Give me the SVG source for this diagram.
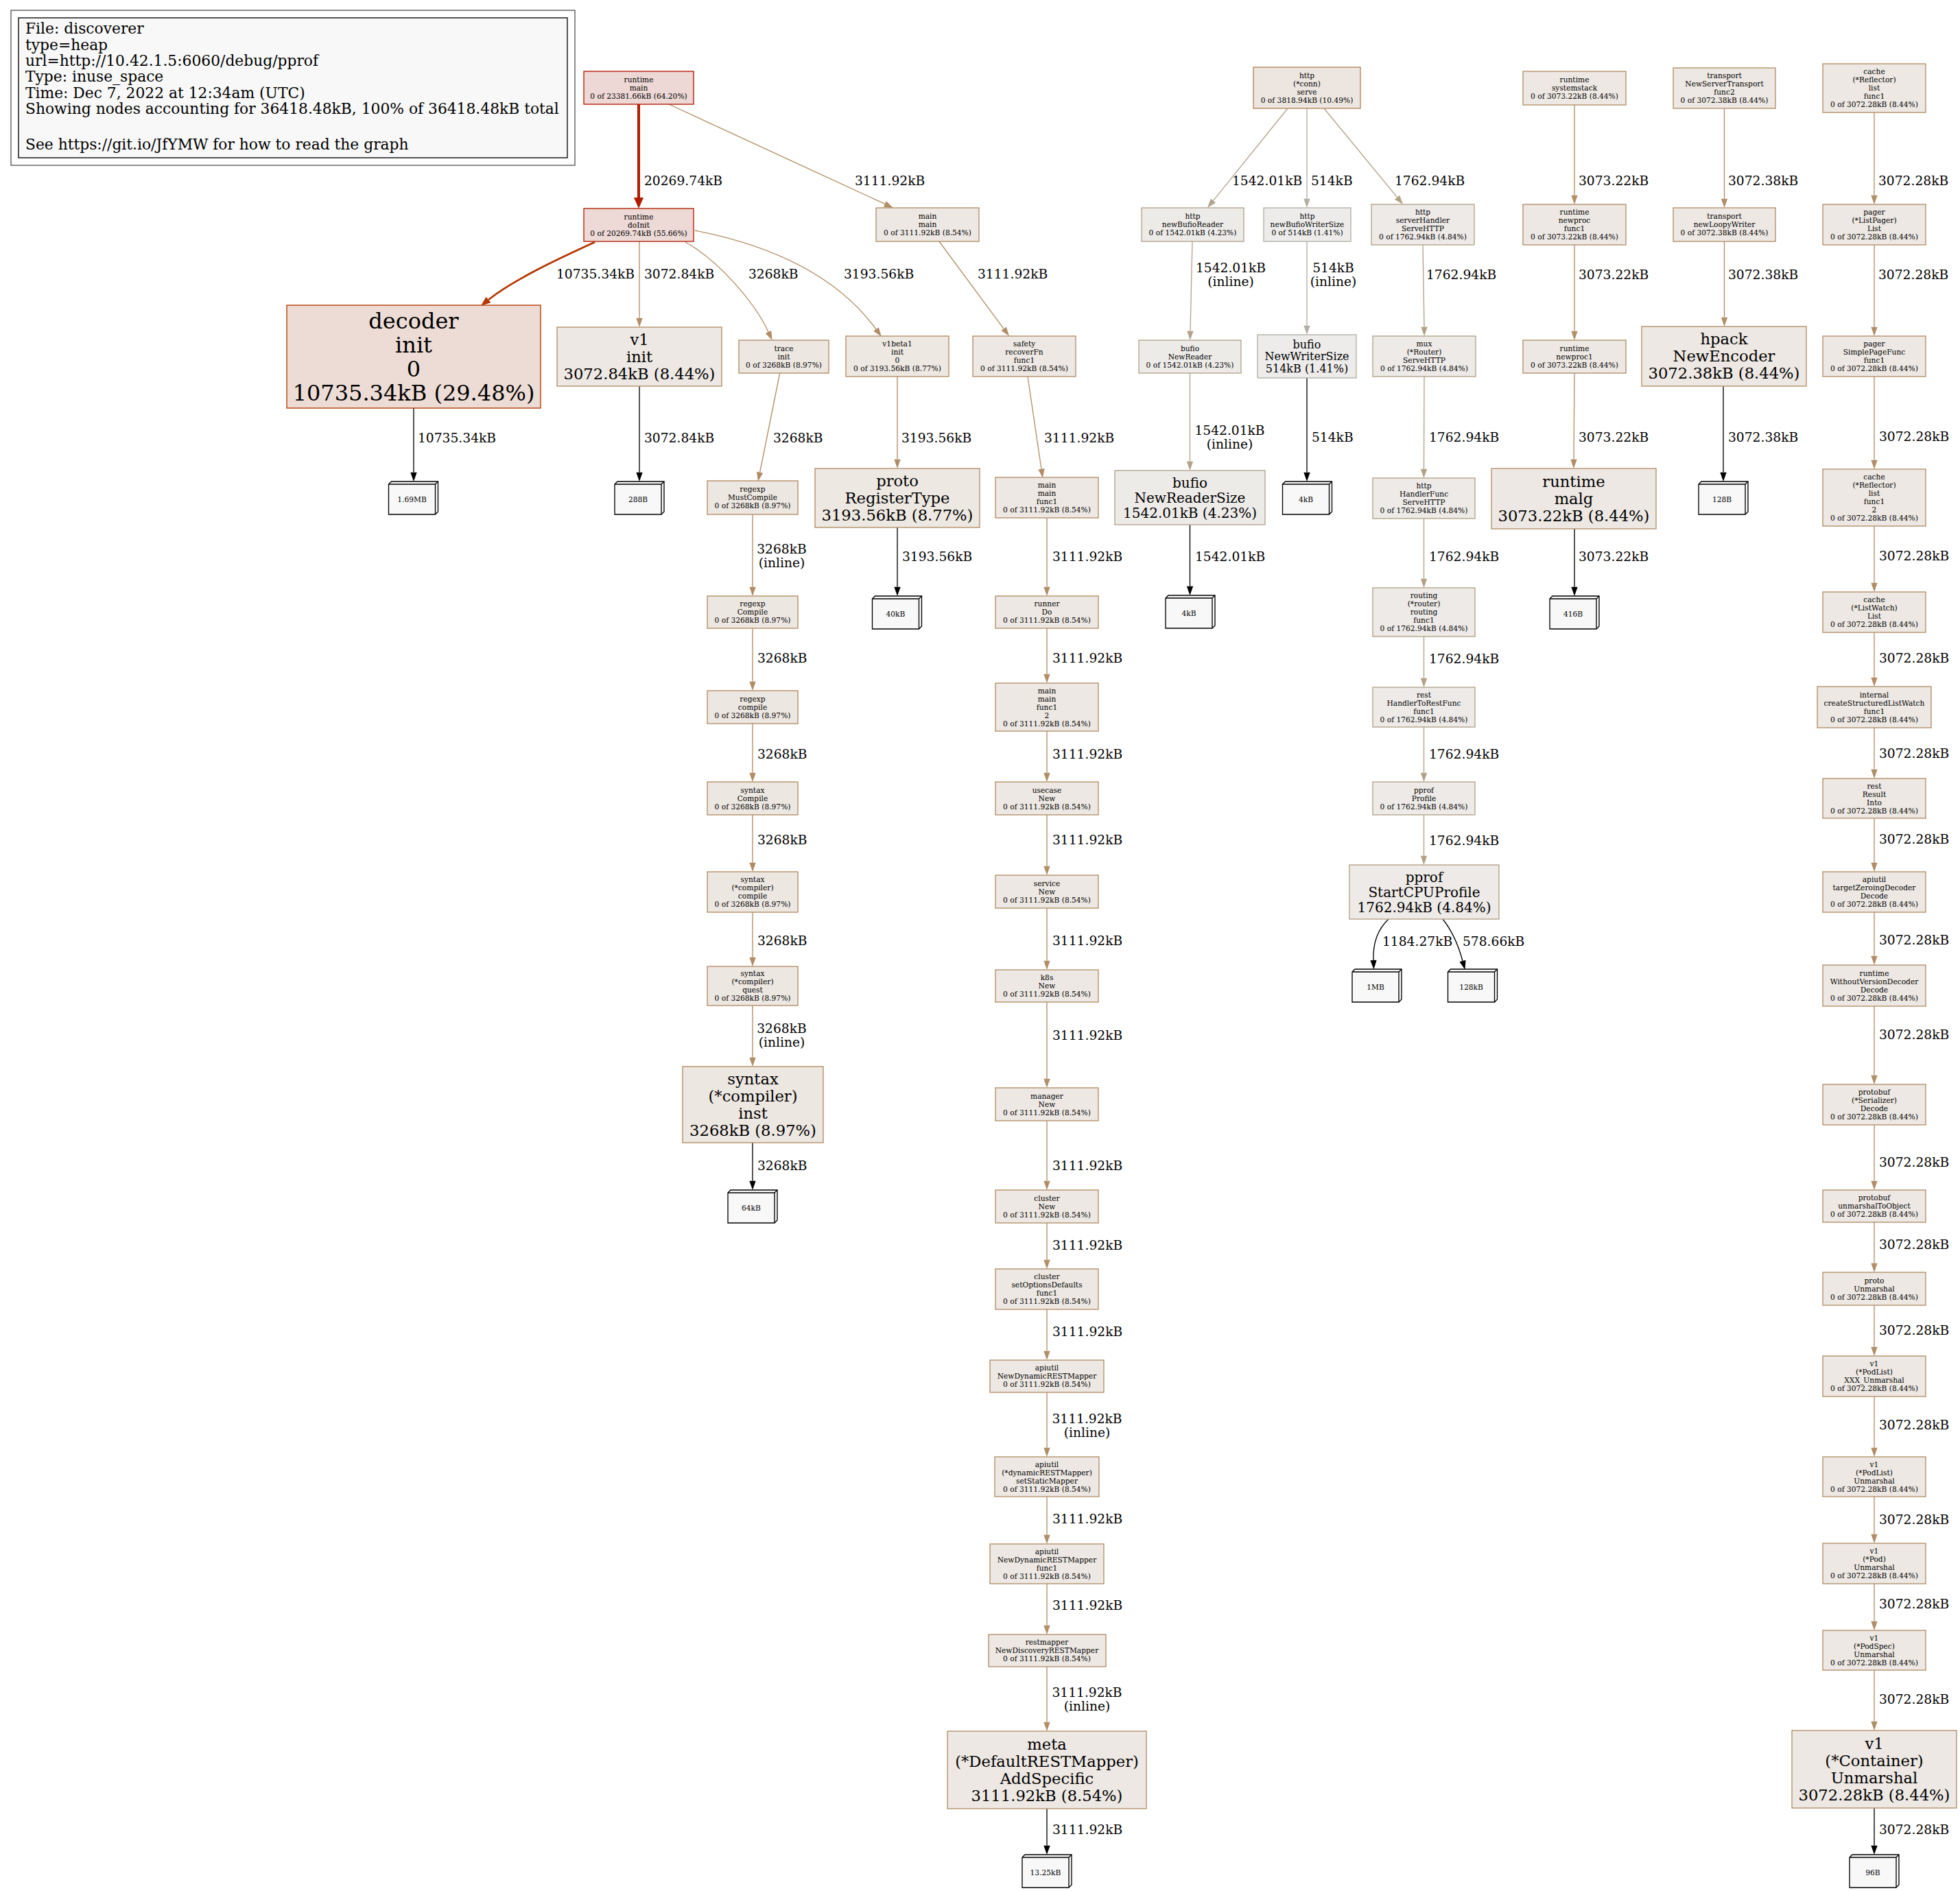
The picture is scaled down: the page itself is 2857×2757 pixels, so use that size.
<svg xmlns="http://www.w3.org/2000/svg" xmlns:xlink="http://www.w3.org/1999/xlink" width="2857" height="2757" viewBox="0 0 2857 2757">
<style>
text{font-family:"DejaVu Serif","Liberation Serif",serif;fill:#000}
.nt{text-anchor:middle}
.f8{font-size:10.67px}.f12{font-size:16px}.f15{font-size:20px}.f17{font-size:22.67px}.f24{font-size:32px}
.el{font-size:18.67px}.lg{font-size:21.8px}
.mid{text-anchor:middle}
rect.n{stroke-width:1.33}
.e{fill:none;stroke-width:1.33}
.red{stroke:#b21c00;stroke-width:4;marker-end:url(#a-red)}
.org{stroke:#b23600;stroke-width:2.67;marker-end:url(#a-org)}
.tan{stroke:#b28e66;marker-end:url(#a-tan)}
.t97{stroke:#b28b62;marker-end:url(#a-t97)}
.t77{stroke:#b28c64;marker-end:url(#a-t77)}
.t42{stroke:#b2a38c;marker-end:url(#a-t42)}
.t48{stroke:#b2a187;marker-end:url(#a-t48)}
.t14{stroke:#b2afa5;marker-end:url(#a-t14)}
.blk{stroke:#000;marker-end:url(#a-blk)}
.r64{fill:#edd8d5;stroke:#b21600}
.r55{fill:#edd9d5;stroke:#b21c00}
.r29{fill:#eddcd5;stroke:#b23600}
.c84{fill:#ede8e3;stroke:#b28e67}
.c85{fill:#ede8e3;stroke:#b28e66}
.c87{fill:#ede8e2;stroke:#b28c64}
.c89{fill:#ede7e2;stroke:#b28b62}
.c10{fill:#ede6e0;stroke:#b28254}
.c48{fill:#edeae7;stroke:#b2a187}
.c42{fill:#edebe8;stroke:#b2a38c}
.c14{fill:#edeceb;stroke:#b2afa5}
.b3{fill:#f8f8f8;stroke:#000;stroke-width:1.33}
</style>
<defs>
<marker id="a-red" markerUnits="userSpaceOnUse" markerWidth="17" markerHeight="15" refX="0" refY="7" orient="auto" overflow="visible"><path d="M0,0 L16,7 L0,14 z" fill="#b21c00"/></marker>
<marker id="a-org" markerUnits="userSpaceOnUse" markerWidth="15" markerHeight="12" refX="0" refY="5.5" orient="auto" overflow="visible"><path d="M0,0 L14,5.5 L0,11 z" fill="#b23600"/></marker>
<marker id="a-tan" markerUnits="userSpaceOnUse" markerWidth="14" markerHeight="10" refX="0" refY="4.67" orient="auto" overflow="visible"><path d="M0,0 L13.3,4.67 L0,9.33 z" fill="#b28e66"/></marker>
<marker id="a-t97" markerUnits="userSpaceOnUse" markerWidth="14" markerHeight="10" refX="0" refY="4.67" orient="auto" overflow="visible"><path d="M0,0 L13.3,4.67 L0,9.33 z" fill="#b28b62"/></marker>
<marker id="a-t77" markerUnits="userSpaceOnUse" markerWidth="14" markerHeight="10" refX="0" refY="4.67" orient="auto" overflow="visible"><path d="M0,0 L13.3,4.67 L0,9.33 z" fill="#b28c64"/></marker>
<marker id="a-t42" markerUnits="userSpaceOnUse" markerWidth="14" markerHeight="10" refX="0" refY="4.67" orient="auto" overflow="visible"><path d="M0,0 L13.3,4.67 L0,9.33 z" fill="#b2a38c"/></marker>
<marker id="a-t48" markerUnits="userSpaceOnUse" markerWidth="14" markerHeight="10" refX="0" refY="4.67" orient="auto" overflow="visible"><path d="M0,0 L13.3,4.67 L0,9.33 z" fill="#b2a187"/></marker>
<marker id="a-t14" markerUnits="userSpaceOnUse" markerWidth="14" markerHeight="10" refX="0" refY="4.67" orient="auto" overflow="visible"><path d="M0,0 L13.3,4.67 L0,9.33 z" fill="#b2afa5"/></marker>
<marker id="a-blk" markerUnits="userSpaceOnUse" markerWidth="14" markerHeight="10" refX="0" refY="4.67" orient="auto" overflow="visible"><path d="M0,0 L13.3,4.67 L0,9.33 z" fill="#000"/></marker>
<g id="box3d"><path class="b3" d="M0,4 L4,0 L72,0 L72,44 L68,48 L0,48 Z"/><path fill="none" stroke="#000" stroke-width="1.33" d="M0,4 H68 V48 M68,4 L72,0"/></g>
</defs>
<rect width="2857" height="2757" fill="#fff"/>

<g id="legend">
<rect x="16" y="15" width="822" height="226" fill="#fff" stroke="#555" stroke-width="1.33"/>
<rect x="27" y="26" width="800" height="204" fill="#f8f8f8" stroke="#000" stroke-width="1.33"/>
<text class="lg" x="37" y="49.3">File: discoverer</text>
<text class="lg" x="37" y="72.7">type=heap</text>
<text class="lg" x="37" y="96">url=http://10.42.1.5:6060/debug/pprof</text>
<text class="lg" x="37" y="119.4">Type: inuse_space</text>
<text class="lg" x="37" y="142.8">Time: Dec 7, 2022 at 12:34am (UTC)</text>
<text class="lg" x="37" y="166.2">Showing nodes accounting for 36418.48kB, 100% of 36418.48kB total</text>
<text class="lg" x="37" y="217.7">See https://git.io/JfYMW for how to read the graph</text>
</g>

<g id="edges">
<g id="e1"><path class="e red" d="M931,152 V288"/><text class="el" x="939" y="269.5">20269.74kB</text></g>
<g id="e2"><path class="e tan" d="M975,152 L1289.9,297.4"/><text class="el" x="1246" y="269.5">3111.92kB</text></g>
<g id="e3"><path class="e org" d="M867,353 C821,374 751,406 712,437"/><text class="el" x="811" y="405.5">10735.34kB</text></g>
<g id="e4"><path class="e tan" d="M932,352 V463.7"/><text class="el" x="939" y="405.5">3072.84kB</text></g>
<g id="e5"><path class="e t97" d="M999,353 C1045,378 1100,440 1120,484"/><text class="el" x="1091" y="405.5">3268kB</text></g>
<g id="e6"><path class="e t77" d="M1013,336 C1110,355 1215,395 1277,480"/><text class="el" x="1230" y="405.5">3193.56kB</text></g>
<g id="e7"><path class="e tan" d="M1369,352 L1463.1,479.3"/><text class="el" x="1425" y="405.5">3111.92kB</text></g>
<g id="e8"><path class="e blk" d="M603,595 V688.7"/><text class="el" x="609" y="644.5">10735.34kB</text></g>
<g id="e9"><path class="e blk" d="M932,563 V688.7"/><text class="el" x="939" y="644.5">3072.84kB</text></g>
<g id="e10"><path class="e t97" d="M1136.7,544 L1107.6,688.7"/><text class="el" x="1127" y="644.5">3268kB</text></g>
<g id="e11"><path class="e t77" d="M1308,549 V669.7"/><text class="el" x="1314" y="644.5">3193.56kB</text></g>
<g id="e12"><path class="e tan" d="M1498,549 L1518,683.8"/><text class="el" x="1522" y="644.5">3111.92kB</text></g>
<g id="e13"><path class="e t42" d="M1877,158 L1768.4,292.6"/><text class="el" x="1796" y="269.5">1542.01kB</text></g>
<g id="e14"><path class="e t14" d="M1905,158 V289.7"/><text class="el" x="1911" y="269.5">514kB</text></g>
<g id="e15"><path class="e t48" d="M1930,158 L2036.6,287.7"/><text class="el" x="2033" y="269.5">1762.94kB</text></g>
<g id="e16"><path class="e tan" d="M2295,153 V284.7"/><text class="el" x="2301" y="269.5">3073.22kB</text></g>
<g id="e17"><path class="e tan" d="M2513.5,158 V289.7"/><text class="el" x="2519" y="269.5">3072.38kB</text></g>
<g id="e18"><path class="e tan" d="M2732,164 V284.7"/><text class="el" x="2738" y="269.5">3072.28kB</text></g>
<g id="e19"><path class="e t42" d="M1738,352 L1735,482.7"/><text class="el mid" x="1794" y="396.5">1542.01kB</text><text class="el mid" x="1794" y="417">(inline)</text></g>
<g id="e20"><path class="e t14" d="M1905,352 V474.7"/><text class="el mid" x="1943.5" y="396.5">514kB</text><text class="el mid" x="1943.5" y="417">(inline)</text></g>
<g id="e21"><path class="e t48" d="M2074,357 L2076,476.7"/><text class="el" x="2079" y="406.5">1762.94kB</text></g>
<g id="e22"><path class="e tan" d="M2295,357 V482.7"/><text class="el" x="2301" y="406.5">3073.22kB</text></g>
<g id="e23"><path class="e tan" d="M2513.5,352 V462.7"/><text class="el" x="2519" y="406.5">3072.38kB</text></g>
<g id="e24"><path class="e tan" d="M2732,357 V476.7"/><text class="el" x="2738" y="406.5">3072.28kB</text></g>
<g id="e25"><path class="e t42" d="M1734.5,544 V672.7"/><text class="el mid" x="1792.5" y="633.5">1542.01kB</text><text class="el mid" x="1792.5" y="654">(inline)</text></g>
<g id="e26"><path class="e blk" d="M1905,551 V688.7"/><text class="el" x="1912" y="643.5">514kB</text></g>
<g id="e27"><path class="e t48" d="M2076,549 L2075.5,683.7"/><text class="el" x="2083" y="643.5">1762.94kB</text></g>
<g id="e28"><path class="e tan" d="M2295,544 L2294,669.7"/><text class="el" x="2301" y="643.5">3073.22kB</text></g>
<g id="e29"><path class="e blk" d="M2512,563 V688.7"/><text class="el" x="2519" y="643.5">3072.38kB</text></g>
<g id="e30"><path class="e tan" d="M2732,549 V670.7"/><text class="el" x="2739" y="642.5">3072.28kB</text></g>
<g id="e31"><path class="e t97" d="M1097,750 V855.7"/><text class="el mid" x="1139.5" y="806.5">3268kB</text><text class="el mid" x="1139.5" y="827">(inline)</text></g>
<g id="e32"><path class="e blk" d="M1308,769 V855.7"/><text class="el" x="1315" y="817.5">3193.56kB</text></g>
<g id="e33"><path class="e tan" d="M1526,755 V855.7"/><text class="el" x="1534" y="817.5">3111.92kB</text></g>
<g id="e34"><path class="e blk" d="M1734.5,765 V854.7"/><text class="el" x="1742" y="817.5">1542.01kB</text></g>
<g id="e35"><path class="e t48" d="M2075.5,756 V843.7"/><text class="el" x="2083" y="817.5">1762.94kB</text></g>
<g id="e36"><path class="e blk" d="M2295,771 V855.7"/><text class="el" x="2301" y="817.5">3073.22kB</text></g>
<g id="e37"><path class="e tan" d="M2732,767 V849.7"/><text class="el" x="2739" y="816.5">3072.28kB</text></g>
<g id="e38"><path class="e t97" d="M1097,916 V993.7"/><text class="el" x="1104" y="965.5">3268kB</text></g>
<g id="e39"><path class="e tan" d="M1526,916 V982.7"/><text class="el" x="1534" y="965.5">3111.92kB</text></g>
<g id="e40"><path class="e t48" d="M2075.5,928 V988.7"/><text class="el" x="2083" y="966.5">1762.94kB</text></g>
<g id="e41"><path class="e tan" d="M2732,922 V987.7"/><text class="el" x="2739" y="965.5">3072.28kB</text></g>
<g id="e42"><path class="e t97" d="M1097,1055 V1126.7"/><text class="el" x="1104" y="1105.5">3268kB</text></g>
<g id="e43"><path class="e tan" d="M1526,1066 V1126.7"/><text class="el" x="1534" y="1105.5">3111.92kB</text></g>
<g id="e44"><path class="e t48" d="M2075.5,1060 V1126.7"/><text class="el" x="2083" y="1105.5">1762.94kB</text></g>
<g id="e45"><path class="e tan" d="M2732,1061 V1121.7"/><text class="el" x="2739" y="1104.5">3072.28kB</text></g>
<g id="e46"><path class="e t97" d="M1097,1188 V1257.7"/><text class="el" x="1104" y="1230.5">3268kB</text></g>
<g id="e47"><path class="e tan" d="M1526,1188 V1262.7"/><text class="el" x="1534" y="1230.5">3111.92kB</text></g>
<g id="e48"><path class="e t48" d="M2075.5,1188 V1247.7"/><text class="el" x="2083" y="1231.5">1762.94kB</text></g>
<g id="e49"><path class="e tan" d="M2732,1193 V1257.7"/><text class="el" x="2739" y="1229.5">3072.28kB</text></g>
<g id="e50"><path class="e t97" d="M1097,1330 V1395.7"/><text class="el" x="1104" y="1377.5">3268kB</text></g>
<g id="e51"><path class="e tan" d="M1526,1324 V1400.7"/><text class="el" x="1534" y="1377.5">3111.92kB</text></g>
<g id="e52"><path class="e blk" d="M2024,1340 C2008,1355 2001,1375 2002,1400"/><text class="el" x="2015" y="1378.5">1184.27kB</text></g>
<g id="e53"><path class="e blk" d="M2103,1340 C2115,1355 2125,1375 2132,1401"/><text class="el" x="2132" y="1378.5">578.66kB</text></g>
<g id="e54"><path class="e tan" d="M2732,1330 V1393.7"/><text class="el" x="2739" y="1376.5">3072.28kB</text></g>
<g id="e55"><path class="e t97" d="M1097,1466 V1541.7"/><text class="el mid" x="1139.5" y="1505.5">3268kB</text><text class="el mid" x="1139.5" y="1526">(inline)</text></g>
<g id="e56"><path class="e tan" d="M1526,1461 V1572.7"/><text class="el" x="1534" y="1515.5">3111.92kB</text></g>
<g id="e57"><path class="e tan" d="M2732,1467 V1567.7"/><text class="el" x="2739" y="1514.5">3072.28kB</text></g>
<g id="e58"><path class="e blk" d="M1097,1666 V1721.7"/><text class="el" x="1104" y="1705.5">3268kB</text></g>
<g id="e59"><path class="e tan" d="M1526,1634 V1721.7"/><text class="el" x="1534" y="1705.5">3111.92kB</text></g>
<g id="e60"><path class="e tan" d="M2732,1640 V1721.7"/><text class="el" x="2739" y="1700.5">3072.28kB</text></g>
<g id="e61"><path class="e tan" d="M1526,1783 V1836.7"/><text class="el" x="1534" y="1821.5">3111.92kB</text></g>
<g id="e62"><path class="e tan" d="M2732,1782 V1841.7"/><text class="el" x="2739" y="1820.5">3072.28kB</text></g>
<g id="e63"><path class="e tan" d="M1526,1909 V1969.7"/><text class="el" x="1534" y="1947.5">3111.92kB</text></g>
<g id="e64"><path class="e tan" d="M2732,1903 V1963.7"/><text class="el" x="2739" y="1945.5">3072.28kB</text></g>
<g id="e65"><path class="e tan" d="M1526,2030 V2110.7"/><text class="el mid" x="1584.5" y="2074.5">3111.92kB</text><text class="el mid" x="1584.5" y="2095">(inline)</text></g>
<g id="e66"><path class="e tan" d="M2732,2036 V2110.7"/><text class="el" x="2739" y="2083.5">3072.28kB</text></g>
<g id="e67"><path class="e tan" d="M1526,2182 V2237.7"/><text class="el" x="1534" y="2220.5">3111.92kB</text></g>
<g id="e68"><path class="e tan" d="M2732,2182 V2236.7"/><text class="el" x="2739" y="2221.5">3072.28kB</text></g>
<g id="e69"><path class="e tan" d="M1526,2309 V2369.7"/><text class="el" x="1534" y="2346.5">3111.92kB</text></g>
<g id="e70"><path class="e tan" d="M2732,2309 V2363.7"/><text class="el" x="2739" y="2344.5">3072.28kB</text></g>
<g id="e71"><path class="e tan" d="M1526,2430 V2510.7"/><text class="el mid" x="1584.5" y="2473.5">3111.92kB</text><text class="el mid" x="1584.5" y="2494">(inline)</text></g>
<g id="e72"><path class="e tan" d="M2732,2435 V2509.7"/><text class="el" x="2739" y="2483.5">3072.28kB</text></g>
<g id="e73"><path class="e blk" d="M1526,2637 V2690.7"/><text class="el" x="1534" y="2673.5">3111.92kB</text></g>
<g id="e74"><path class="e blk" d="M2732,2636 V2690.7"/><text class="el" x="2739" y="2673.5">3072.28kB</text></g>
</g>

<g id="n-runtime-main"><rect class="n r64" x="851" y="104" width="160" height="48"/><text class="nt f8" x="931" y="119.8"><tspan x="931">runtime</tspan><tspan x="931" dy="11.9">main</tspan><tspan x="931" dy="11.9">0 of 23381.66kB (64.20%)</tspan></text></g>
<g id="n-runtime-doinit"><rect class="n r55" x="851" y="304" width="160" height="48"/><text class="nt f8" x="931" y="319.8"><tspan x="931">runtime</tspan><tspan x="931" dy="11.9">doInit</tspan><tspan x="931" dy="11.9">0 of 20269.74kB (55.66%)</tspan></text></g>
<g id="n-decoder-init"><rect class="n r29" x="418" y="445" width="370" height="150"/><text class="nt f24" x="603" y="478.7"><tspan x="603">decoder</tspan><tspan x="603" dy="35">init</tspan><tspan x="603" dy="35">0</tspan><tspan x="603" dy="35">10735.34kB (29.48%)</tspan></text></g>
<g id="n-v1-init"><rect class="n c84" x="812" y="477" width="240" height="86"/><text class="nt f17" x="932" y="502.9"><tspan x="932">v1</tspan><tspan x="932" dy="25">init</tspan><tspan x="932" dy="25">3072.84kB (8.44%)</tspan></text></g>
<g id="n-trace-init"><rect class="n c89" x="1077" y="496" width="131" height="48"/><text class="nt f8" x="1142.5" y="511.8"><tspan x="1142.5">trace</tspan><tspan x="1142.5" dy="11.9">init</tspan><tspan x="1142.5" dy="11.9">0 of 3268kB (8.97%)</tspan></text></g>
<g id="n-v1beta1-init"><rect class="n c87" x="1233" y="490" width="150" height="59"/><text class="nt f8" x="1308" y="505.35"><tspan x="1308">v1beta1</tspan><tspan x="1308" dy="11.9">init</tspan><tspan x="1308" dy="11.9">0</tspan><tspan x="1308" dy="11.9">0 of 3193.56kB (8.77%)</tspan></text></g>
<g id="n-main-main"><rect class="n c85" x="1277" y="303" width="150" height="49"/><text class="nt f8" x="1352" y="319.3"><tspan x="1352">main</tspan><tspan x="1352" dy="11.9">main</tspan><tspan x="1352" dy="11.9">0 of 3111.92kB (8.54%)</tspan></text></g>
<g id="n-safety"><rect class="n c85" x="1418" y="490" width="150" height="59"/><text class="nt f8" x="1493" y="505.35"><tspan x="1493">safety</tspan><tspan x="1493" dy="11.9">recoverFn</tspan><tspan x="1493" dy="11.9">func1</tspan><tspan x="1493" dy="11.9">0 of 3111.92kB (8.54%)</tspan></text></g>

<g id="n-regexp-mustcompile"><rect class="n c89" x="1031" y="701" width="132" height="49"/><text class="nt f8" x="1097" y="717.3"><tspan x="1097">regexp</tspan><tspan x="1097" dy="11.9">MustCompile</tspan><tspan x="1097" dy="11.9">0 of 3268kB (8.97%)</tspan></text></g>
<g id="n-proto-registertype"><rect class="n c87" x="1188" y="683" width="240" height="86"/><text class="nt f17" x="1308" y="708.9"><tspan x="1308">proto</tspan><tspan x="1308" dy="25">RegisterType</tspan><tspan x="1308" dy="25">3193.56kB (8.77%)</tspan></text></g>
<g id="n-main-main-func1"><rect class="n c85" x="1451" y="696" width="150" height="59"/><text class="nt f8" x="1526" y="711.35"><tspan x="1526">main</tspan><tspan x="1526" dy="11.9">main</tspan><tspan x="1526" dy="11.9">func1</tspan><tspan x="1526" dy="11.9">0 of 3111.92kB (8.54%)</tspan></text></g>
<g id="n-regexp-compile"><rect class="n c89" x="1031" y="869" width="132" height="47"/><text class="nt f8" x="1097" y="884.3"><tspan x="1097">regexp</tspan><tspan x="1097" dy="11.9">Compile</tspan><tspan x="1097" dy="11.9">0 of 3268kB (8.97%)</tspan></text></g>
<g id="n-runner-do"><rect class="n c85" x="1451" y="869" width="150" height="47"/><text class="nt f8" x="1526" y="884.3"><tspan x="1526">runner</tspan><tspan x="1526" dy="11.9">Do</tspan><tspan x="1526" dy="11.9">0 of 3111.92kB (8.54%)</tspan></text></g>
<g id="n-regexp-compile2"><rect class="n c89" x="1031" y="1007" width="132" height="48"/><text class="nt f8" x="1097" y="1022.8"><tspan x="1097">regexp</tspan><tspan x="1097" dy="11.9">compile</tspan><tspan x="1097" dy="11.9">0 of 3268kB (8.97%)</tspan></text></g>
<g id="n-main-main-func1-2"><rect class="n c85" x="1451" y="996" width="150" height="70"/><text class="nt f8" x="1526" y="1010.9"><tspan x="1526">main</tspan><tspan x="1526" dy="11.9">main</tspan><tspan x="1526" dy="11.9">func1</tspan><tspan x="1526" dy="11.9">2</tspan><tspan x="1526" dy="11.9">0 of 3111.92kB (8.54%)</tspan></text></g>
<g id="n-syntax-compile"><rect class="n c89" x="1031" y="1140" width="132" height="48"/><text class="nt f8" x="1097" y="1155.8"><tspan x="1097">syntax</tspan><tspan x="1097" dy="11.9">Compile</tspan><tspan x="1097" dy="11.9">0 of 3268kB (8.97%)</tspan></text></g>
<g id="n-usecase-new"><rect class="n c85" x="1451" y="1140" width="150" height="48"/><text class="nt f8" x="1526" y="1155.8"><tspan x="1526">usecase</tspan><tspan x="1526" dy="11.9">New</tspan><tspan x="1526" dy="11.9">0 of 3111.92kB (8.54%)</tspan></text></g>
<g id="n-syntax-compiler-compile"><rect class="n c89" x="1031" y="1271" width="132" height="59"/><text class="nt f8" x="1097" y="1286.35"><tspan x="1097">syntax</tspan><tspan x="1097" dy="11.9">(*compiler)</tspan><tspan x="1097" dy="11.9">compile</tspan><tspan x="1097" dy="11.9">0 of 3268kB (8.97%)</tspan></text></g>
<g id="n-service-new"><rect class="n c85" x="1451" y="1276" width="150" height="48"/><text class="nt f8" x="1526" y="1291.8"><tspan x="1526">service</tspan><tspan x="1526" dy="11.9">New</tspan><tspan x="1526" dy="11.9">0 of 3111.92kB (8.54%)</tspan></text></g>
<g id="n-syntax-compiler-quest"><rect class="n c89" x="1031" y="1409" width="132" height="57"/><text class="nt f8" x="1097" y="1423.35"><tspan x="1097">syntax</tspan><tspan x="1097" dy="11.9">(*compiler)</tspan><tspan x="1097" dy="11.9">quest</tspan><tspan x="1097" dy="11.9">0 of 3268kB (8.97%)</tspan></text></g>
<g id="n-k8s-new"><rect class="n c85" x="1451" y="1414" width="150" height="47"/><text class="nt f8" x="1526" y="1429.3"><tspan x="1526">k8s</tspan><tspan x="1526" dy="11.9">New</tspan><tspan x="1526" dy="11.9">0 of 3111.92kB (8.54%)</tspan></text></g>
<g id="n-syntax-inst"><rect class="n c89" x="995" y="1555" width="205" height="111"/><text class="nt f17" x="1097.5" y="1580.9"><tspan x="1097.5">syntax</tspan><tspan x="1097.5" dy="25">(*compiler)</tspan><tspan x="1097.5" dy="25">inst</tspan><tspan x="1097.5" dy="25">3268kB (8.97%)</tspan></text></g>
<g id="n-manager-new"><rect class="n c85" x="1451" y="1586" width="150" height="48"/><text class="nt f8" x="1526" y="1601.8"><tspan x="1526">manager</tspan><tspan x="1526" dy="11.9">New</tspan><tspan x="1526" dy="11.9">0 of 3111.92kB (8.54%)</tspan></text></g>
<g id="n-cluster-new"><rect class="n c85" x="1451" y="1735" width="150" height="48"/><text class="nt f8" x="1526" y="1750.8"><tspan x="1526">cluster</tspan><tspan x="1526" dy="11.9">New</tspan><tspan x="1526" dy="11.9">0 of 3111.92kB (8.54%)</tspan></text></g>
<g id="n-cluster-setoptions"><rect class="n c85" x="1451" y="1850" width="150" height="59"/><text class="nt f8" x="1526" y="1865.35"><tspan x="1526">cluster</tspan><tspan x="1526" dy="11.9">setOptionsDefaults</tspan><tspan x="1526" dy="11.9">func1</tspan><tspan x="1526" dy="11.9">0 of 3111.92kB (8.54%)</tspan></text></g>
<g id="n-apiutil-ndrm"><rect class="n c85" x="1443" y="1983" width="166" height="47"/><text class="nt f8" x="1526" y="1998.3"><tspan x="1526">apiutil</tspan><tspan x="1526" dy="11.9">NewDynamicRESTMapper</tspan><tspan x="1526" dy="11.9">0 of 3111.92kB (8.54%)</tspan></text></g>
<g id="n-apiutil-setstatic"><rect class="n c85" x="1450" y="2124" width="152" height="58"/><text class="nt f8" x="1526" y="2138.85"><tspan x="1526">apiutil</tspan><tspan x="1526" dy="11.9">(*dynamicRESTMapper)</tspan><tspan x="1526" dy="11.9">setStaticMapper</tspan><tspan x="1526" dy="11.9">0 of 3111.92kB (8.54%)</tspan></text></g>
<g id="n-apiutil-ndrm-func1"><rect class="n c85" x="1443" y="2251" width="166" height="58"/><text class="nt f8" x="1526" y="2265.85"><tspan x="1526">apiutil</tspan><tspan x="1526" dy="11.9">NewDynamicRESTMapper</tspan><tspan x="1526" dy="11.9">func1</tspan><tspan x="1526" dy="11.9">0 of 3111.92kB (8.54%)</tspan></text></g>
<g id="n-restmapper"><rect class="n c85" x="1441" y="2383" width="171" height="47"/><text class="nt f8" x="1526" y="2398.3"><tspan x="1526">restmapper</tspan><tspan x="1526" dy="11.9">NewDiscoveryRESTMapper</tspan><tspan x="1526" dy="11.9">0 of 3111.92kB (8.54%)</tspan></text></g>
<g id="n-meta-addspecific"><rect class="n c85" x="1381" y="2524" width="290" height="113"/><text class="nt f17" x="1526" y="2550.9"><tspan x="1526">meta</tspan><tspan x="1526" dy="25">(*DefaultRESTMapper)</tspan><tspan x="1526" dy="25">AddSpecific</tspan><tspan x="1526" dy="25">3111.92kB (8.54%)</tspan></text></g>

<g id="n-http-serve"><rect class="n c10" x="1827" y="98" width="156" height="60"/><text class="nt f8" x="1905" y="113.85"><tspan x="1905">http</tspan><tspan x="1905" dy="11.9">(*conn)</tspan><tspan x="1905" dy="11.9">serve</tspan><tspan x="1905" dy="11.9">0 of 3818.94kB (10.49%)</tspan></text></g>
<g id="n-http-newbufioreader"><rect class="n c42" x="1664" y="303" width="149" height="49"/><text class="nt f8" x="1738.5" y="319.3"><tspan x="1738.5">http</tspan><tspan x="1738.5" dy="11.9">newBufioReader</tspan><tspan x="1738.5" dy="11.9">0 of 1542.01kB (4.23%)</tspan></text></g>
<g id="n-http-newbufiowritersize"><rect class="n c14" x="1842" y="303" width="127" height="49"/><text class="nt f8" x="1905.5" y="319.3"><tspan x="1905.5">http</tspan><tspan x="1905.5" dy="11.9">newBufioWriterSize</tspan><tspan x="1905.5" dy="11.9">0 of 514kB (1.41%)</tspan></text></g>
<g id="n-http-serverhandler"><rect class="n c48" x="1999" y="298" width="150" height="59"/><text class="nt f8" x="2074" y="313.35"><tspan x="2074">http</tspan><tspan x="2074" dy="11.9">serverHandler</tspan><tspan x="2074" dy="11.9">ServeHTTP</tspan><tspan x="2074" dy="11.9">0 of 1762.94kB (4.84%)</tspan></text></g>
<g id="n-bufio-newreader"><rect class="n c42" x="1660" y="496" width="149" height="48"/><text class="nt f8" x="1734.5" y="511.8"><tspan x="1734.5">bufio</tspan><tspan x="1734.5" dy="11.9">NewReader</tspan><tspan x="1734.5" dy="11.9">0 of 1542.01kB (4.23%)</tspan></text></g>
<g id="n-bufio-newwritersize"><rect class="n c14" x="1833" y="488" width="144" height="63"/><text class="nt f12" x="1905" y="507.5"><tspan x="1905">bufio</tspan><tspan x="1905" dy="17.6">NewWriterSize</tspan><tspan x="1905" dy="17.6">514kB (1.41%)</tspan></text></g>
<g id="n-mux-router"><rect class="n c48" x="2001" y="490" width="150" height="59"/><text class="nt f8" x="2076" y="505.35"><tspan x="2076">mux</tspan><tspan x="2076" dy="11.9">(*Router)</tspan><tspan x="2076" dy="11.9">ServeHTTP</tspan><tspan x="2076" dy="11.9">0 of 1762.94kB (4.84%)</tspan></text></g>
<g id="n-bufio-newreadersize"><rect class="n c42" x="1625" y="686" width="219" height="79"/><text class="nt f15" x="1734.5" y="710.5"><tspan x="1734.5">bufio</tspan><tspan x="1734.5" dy="22">NewReaderSize</tspan><tspan x="1734.5" dy="22">1542.01kB (4.23%)</tspan></text></g>
<g id="n-http-handlerfunc"><rect class="n c48" x="2001" y="697" width="149" height="59"/><text class="nt f8" x="2075.5" y="712.35"><tspan x="2075.5">http</tspan><tspan x="2075.5" dy="11.9">HandlerFunc</tspan><tspan x="2075.5" dy="11.9">ServeHTTP</tspan><tspan x="2075.5" dy="11.9">0 of 1762.94kB (4.84%)</tspan></text></g>
<g id="n-routing"><rect class="n c48" x="2001" y="857" width="149" height="71"/><text class="nt f8" x="2075.5" y="872.4"><tspan x="2075.5">routing</tspan><tspan x="2075.5" dy="11.9">(*router)</tspan><tspan x="2075.5" dy="11.9">routing</tspan><tspan x="2075.5" dy="11.9">func1</tspan><tspan x="2075.5" dy="11.9">0 of 1762.94kB (4.84%)</tspan></text></g>
<g id="n-rest-handlertorestfunc"><rect class="n c48" x="2001" y="1002" width="149" height="58"/><text class="nt f8" x="2075.5" y="1016.85"><tspan x="2075.5">rest</tspan><tspan x="2075.5" dy="11.9">HandlerToRestFunc</tspan><tspan x="2075.5" dy="11.9">func1</tspan><tspan x="2075.5" dy="11.9">0 of 1762.94kB (4.84%)</tspan></text></g>
<g id="n-pprof-profile"><rect class="n c48" x="2001" y="1140" width="149" height="48"/><text class="nt f8" x="2075.5" y="1155.8"><tspan x="2075.5">pprof</tspan><tspan x="2075.5" dy="11.9">Profile</tspan><tspan x="2075.5" dy="11.9">0 of 1762.94kB (4.84%)</tspan></text></g>
<g id="n-pprof-startcpuprofile"><rect class="n c48" x="1967" y="1261" width="218" height="79"/><text class="nt f15" x="2076" y="1285.5"><tspan x="2076">pprof</tspan><tspan x="2076" dy="22">StartCPUProfile</tspan><tspan x="2076" dy="22">1762.94kB (4.84%)</tspan></text></g>

<g id="n-runtime-systemstack"><rect class="n c84" x="2220" y="104" width="150" height="49"/><text class="nt f8" x="2295" y="120.3"><tspan x="2295">runtime</tspan><tspan x="2295" dy="11.9">systemstack</tspan><tspan x="2295" dy="11.9">0 of 3073.22kB (8.44%)</tspan></text></g>
<g id="n-runtime-newproc-func1"><rect class="n c84" x="2220" y="298" width="150" height="59"/><text class="nt f8" x="2295" y="313.35"><tspan x="2295">runtime</tspan><tspan x="2295" dy="11.9">newproc</tspan><tspan x="2295" dy="11.9">func1</tspan><tspan x="2295" dy="11.9">0 of 3073.22kB (8.44%)</tspan></text></g>
<g id="n-runtime-newproc1"><rect class="n c84" x="2220" y="496" width="150" height="48"/><text class="nt f8" x="2295" y="511.8"><tspan x="2295">runtime</tspan><tspan x="2295" dy="11.9">newproc1</tspan><tspan x="2295" dy="11.9">0 of 3073.22kB (8.44%)</tspan></text></g>
<g id="n-runtime-malg"><rect class="n c84" x="2174" y="683" width="240" height="88"/><text class="nt f17" x="2294" y="709.9"><tspan x="2294">runtime</tspan><tspan x="2294" dy="25">malg</tspan><tspan x="2294" dy="25">3073.22kB (8.44%)</tspan></text></g>

<g id="n-transport-nst"><rect class="n c84" x="2439" y="99" width="149" height="59"/><text class="nt f8" x="2513.5" y="114.35"><tspan x="2513.5">transport</tspan><tspan x="2513.5" dy="11.9">NewServerTransport</tspan><tspan x="2513.5" dy="11.9">func2</tspan><tspan x="2513.5" dy="11.9">0 of 3072.38kB (8.44%)</tspan></text></g>
<g id="n-transport-loopy"><rect class="n c84" x="2439" y="303" width="149" height="49"/><text class="nt f8" x="2513.5" y="319.3"><tspan x="2513.5">transport</tspan><tspan x="2513.5" dy="11.9">newLoopyWriter</tspan><tspan x="2513.5" dy="11.9">0 of 3072.38kB (8.44%)</tspan></text></g>
<g id="n-hpack"><rect class="n c84" x="2393" y="476" width="240" height="87"/><text class="nt f17" x="2513" y="502.4"><tspan x="2513">hpack</tspan><tspan x="2513" dy="25">NewEncoder</tspan><tspan x="2513" dy="25">3072.38kB (8.44%)</tspan></text></g>

<g id="n-cache-reflector-list-func1"><rect class="n c84" x="2657" y="93" width="150" height="71"/><text class="nt f8" x="2732" y="108.4"><tspan x="2732">cache</tspan><tspan x="2732" dy="11.9">(*Reflector)</tspan><tspan x="2732" dy="11.9">list</tspan><tspan x="2732" dy="11.9">func1</tspan><tspan x="2732" dy="11.9">0 of 3072.28kB (8.44%)</tspan></text></g>
<g id="n-pager-list"><rect class="n c84" x="2657" y="298" width="150" height="59"/><text class="nt f8" x="2732" y="313.35"><tspan x="2732">pager</tspan><tspan x="2732" dy="11.9">(*ListPager)</tspan><tspan x="2732" dy="11.9">List</tspan><tspan x="2732" dy="11.9">0 of 3072.28kB (8.44%)</tspan></text></g>
<g id="n-pager-simplepagefunc"><rect class="n c84" x="2657" y="490" width="150" height="59"/><text class="nt f8" x="2732" y="505.35"><tspan x="2732">pager</tspan><tspan x="2732" dy="11.9">SimplePageFunc</tspan><tspan x="2732" dy="11.9">func1</tspan><tspan x="2732" dy="11.9">0 of 3072.28kB (8.44%)</tspan></text></g>
<g id="n-cache-reflector-list-func1-2"><rect class="n c84" x="2657" y="684" width="150" height="83"/><text class="nt f8" x="2732" y="699.45"><tspan x="2732">cache</tspan><tspan x="2732" dy="11.9">(*Reflector)</tspan><tspan x="2732" dy="11.9">list</tspan><tspan x="2732" dy="11.9">func1</tspan><tspan x="2732" dy="11.9">2</tspan><tspan x="2732" dy="11.9">0 of 3072.28kB (8.44%)</tspan></text></g>
<g id="n-cache-listwatch"><rect class="n c84" x="2657" y="863" width="150" height="59"/><text class="nt f8" x="2732" y="878.35"><tspan x="2732">cache</tspan><tspan x="2732" dy="11.9">(*ListWatch)</tspan><tspan x="2732" dy="11.9">List</tspan><tspan x="2732" dy="11.9">0 of 3072.28kB (8.44%)</tspan></text></g>
<g id="n-internal"><rect class="n c84" x="2649" y="1001" width="166" height="60"/><text class="nt f8" x="2732" y="1016.85"><tspan x="2732">internal</tspan><tspan x="2732" dy="11.9">createStructuredListWatch</tspan><tspan x="2732" dy="11.9">func1</tspan><tspan x="2732" dy="11.9">0 of 3072.28kB (8.44%)</tspan></text></g>
<g id="n-rest-result-into"><rect class="n c84" x="2657" y="1135" width="150" height="58"/><text class="nt f8" x="2732" y="1149.85"><tspan x="2732">rest</tspan><tspan x="2732" dy="11.9">Result</tspan><tspan x="2732" dy="11.9">Into</tspan><tspan x="2732" dy="11.9">0 of 3072.28kB (8.44%)</tspan></text></g>
<g id="n-apiutil-tzd"><rect class="n c84" x="2657" y="1271" width="150" height="59"/><text class="nt f8" x="2732" y="1286.35"><tspan x="2732">apiutil</tspan><tspan x="2732" dy="11.9">targetZeroingDecoder</tspan><tspan x="2732" dy="11.9">Decode</tspan><tspan x="2732" dy="11.9">0 of 3072.28kB (8.44%)</tspan></text></g>
<g id="n-runtime-wvd"><rect class="n c84" x="2657" y="1407" width="150" height="60"/><text class="nt f8" x="2732" y="1422.85"><tspan x="2732">runtime</tspan><tspan x="2732" dy="11.9">WithoutVersionDecoder</tspan><tspan x="2732" dy="11.9">Decode</tspan><tspan x="2732" dy="11.9">0 of 3072.28kB (8.44%)</tspan></text></g>
<g id="n-protobuf-serializer"><rect class="n c84" x="2657" y="1581" width="150" height="59"/><text class="nt f8" x="2732" y="1596.35"><tspan x="2732">protobuf</tspan><tspan x="2732" dy="11.9">(*Serializer)</tspan><tspan x="2732" dy="11.9">Decode</tspan><tspan x="2732" dy="11.9">0 of 3072.28kB (8.44%)</tspan></text></g>
<g id="n-protobuf-uto"><rect class="n c84" x="2657" y="1735" width="150" height="47"/><text class="nt f8" x="2732" y="1750.3"><tspan x="2732">protobuf</tspan><tspan x="2732" dy="11.9">unmarshalToObject</tspan><tspan x="2732" dy="11.9">0 of 3072.28kB (8.44%)</tspan></text></g>
<g id="n-proto-unmarshal"><rect class="n c84" x="2657" y="1855" width="150" height="48"/><text class="nt f8" x="2732" y="1870.8"><tspan x="2732">proto</tspan><tspan x="2732" dy="11.9">Unmarshal</tspan><tspan x="2732" dy="11.9">0 of 3072.28kB (8.44%)</tspan></text></g>
<g id="n-v1-podlist-xxx"><rect class="n c84" x="2657" y="1977" width="150" height="59"/><text class="nt f8" x="2732" y="1992.35"><tspan x="2732">v1</tspan><tspan x="2732" dy="11.9">(*PodList)</tspan><tspan x="2732" dy="11.9">XXX_Unmarshal</tspan><tspan x="2732" dy="11.9">0 of 3072.28kB (8.44%)</tspan></text></g>
<g id="n-v1-podlist-unmarshal"><rect class="n c84" x="2657" y="2124" width="150" height="58"/><text class="nt f8" x="2732" y="2138.85"><tspan x="2732">v1</tspan><tspan x="2732" dy="11.9">(*PodList)</tspan><tspan x="2732" dy="11.9">Unmarshal</tspan><tspan x="2732" dy="11.9">0 of 3072.28kB (8.44%)</tspan></text></g>
<g id="n-v1-pod-unmarshal"><rect class="n c84" x="2657" y="2250" width="150" height="59"/><text class="nt f8" x="2732" y="2265.35"><tspan x="2732">v1</tspan><tspan x="2732" dy="11.9">(*Pod)</tspan><tspan x="2732" dy="11.9">Unmarshal</tspan><tspan x="2732" dy="11.9">0 of 3072.28kB (8.44%)</tspan></text></g>
<g id="n-v1-podspec-unmarshal"><rect class="n c84" x="2657" y="2377" width="150" height="58"/><text class="nt f8" x="2732" y="2391.85"><tspan x="2732">v1</tspan><tspan x="2732" dy="11.9">(*PodSpec)</tspan><tspan x="2732" dy="11.9">Unmarshal</tspan><tspan x="2732" dy="11.9">0 of 3072.28kB (8.44%)</tspan></text></g>
<g id="n-v1-container-unmarshal"><rect class="n c84" x="2612" y="2523" width="240" height="113"/><text class="nt f17" x="2732" y="2549.9"><tspan x="2732">v1</tspan><tspan x="2732" dy="25">(*Container)</tspan><tspan x="2732" dy="25">Unmarshal</tspan><tspan x="2732" dy="25">3072.28kB (8.44%)</tspan></text></g>

<g id="t-1-69MB"><use xlink:href="#box3d" x="566.5" y="702"/><text class="nt f8" x="600.5" y="731.7">1.69MB</text></g>
<g id="t-288B"><use xlink:href="#box3d" x="896" y="702"/><text class="nt f8" x="930" y="731.7">288B</text></g>
<g id="t-40kB"><use xlink:href="#box3d" x="1271.5" y="869"/><text class="nt f8" x="1305.5" y="898.7">40kB</text></g>
<g id="t-4kB-r"><use xlink:href="#box3d" x="1699" y="868"/><text class="nt f8" x="1733" y="897.7">4kB</text></g>
<g id="t-4kB-w"><use xlink:href="#box3d" x="1869.5" y="702"/><text class="nt f8" x="1903.5" y="731.7">4kB</text></g>
<g id="t-416B"><use xlink:href="#box3d" x="2259" y="869"/><text class="nt f8" x="2293" y="898.7">416B</text></g>
<g id="t-128B"><use xlink:href="#box3d" x="2476" y="702"/><text class="nt f8" x="2510" y="731.7">128B</text></g>
<g id="t-1MB"><use xlink:href="#box3d" x="1971" y="1413"/><text class="nt f8" x="2005" y="1442.7">1MB</text></g>
<g id="t-128kB"><use xlink:href="#box3d" x="2110.5" y="1413"/><text class="nt f8" x="2144.5" y="1442.7">128kB</text></g>
<g id="t-64kB"><use xlink:href="#box3d" x="1061" y="1735"/><text class="nt f8" x="1095" y="1764.7">64kB</text></g>
<g id="t-13-25kB"><use xlink:href="#box3d" x="1490" y="2704"/><text class="nt f8" x="1524" y="2733.7">13.25kB</text></g>
<g id="t-96B"><use xlink:href="#box3d" x="2696" y="2704"/><text class="nt f8" x="2730" y="2733.7">96B</text></g>
</svg>
